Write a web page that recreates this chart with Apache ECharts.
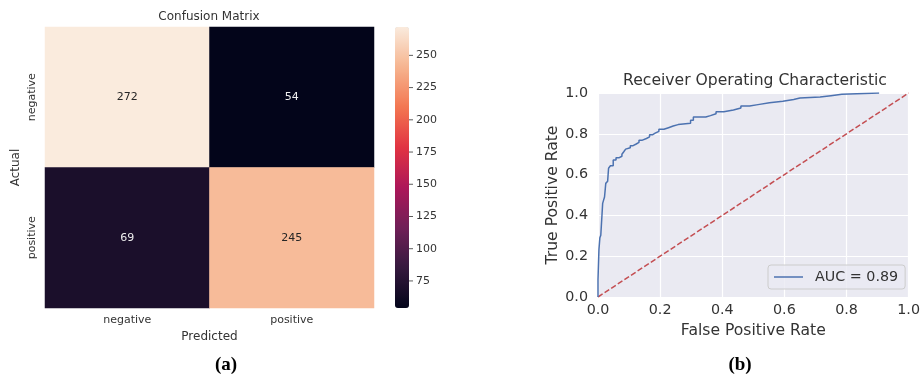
<!DOCTYPE html>
<html><head><meta charset="utf-8">
<script src="https://cdn.jsdelivr.net/npm/echarts@6/dist/echarts.min.js"></script>
<style>html,body{margin:0;padding:0;background:#fff}#c{width:923px;height:379px}</style>
</head><body><div id="c"></div>
<script>
// ---- data ----
const cmCategories = ['negative', 'positive'];
const cmActualNegative = [272, 54];   // predicted negative, predicted positive
const cmActualPositive = [69, 245];
const colorbarTicks = [75, 100, 125, 150, 175, 200, 225, 250];
const colorbarMin = 54;
const colorbarMax = 272;
const rocTicks = [0, 0.2, 0.4, 0.6, 0.8, 1.0];
const rocFpr = [0, 0, 0.003, 0.003, 0.006, 0.006, 0.009, 0.009, 0.015, 0.015, 0.018, 0.018, 0.021, 0.021, 0.025, 0.025, 0.031, 0.031, 0.034, 0.034, 0.040, 0.040, 0.049, 0.049, 0.058, 0.058, 0.067, 0.067, 0.077, 0.077, 0.083, 0.083, 0.089, 0.089, 0.095, 0.095, 0.104, 0.104, 0.113, 0.113, 0.123, 0.123, 0.132, 0.132, 0.141, 0.141, 0.156, 0.156, 0.166, 0.166, 0.175, 0.175, 0.184, 0.184, 0.196, 0.196, 0.212, 0.212, 0.227, 0.227, 0.242, 0.242, 0.258, 0.258, 0.298, 0.298, 0.307, 0.307, 0.347, 0.347, 0.362, 0.362, 0.380, 0.380, 0.405, 0.405, 0.436, 0.436, 0.460, 0.460, 0.488, 0.488, 0.515, 0.515, 0.552, 0.552, 0.595, 0.595, 0.630, 0.630, 0.650, 0.650, 0.715, 0.715, 0.750, 0.750, 0.785, 0.785, 0.905];
const rocTpr = [0, 0.085, 0.085, 0.232, 0.232, 0.290, 0.290, 0.303, 0.303, 0.459, 0.459, 0.475, 0.475, 0.490, 0.490, 0.557, 0.557, 0.567, 0.567, 0.631, 0.631, 0.643, 0.643, 0.672, 0.672, 0.682, 0.682, 0.690, 0.690, 0.700, 0.700, 0.712, 0.712, 0.725, 0.725, 0.732, 0.732, 0.742, 0.742, 0.750, 0.750, 0.758, 0.758, 0.768, 0.768, 0.777, 0.777, 0.785, 0.785, 0.795, 0.795, 0.803, 0.803, 0.812, 0.812, 0.822, 0.822, 0.830, 0.830, 0.838, 0.838, 0.845, 0.845, 0.852, 0.852, 0.866, 0.866, 0.882, 0.882, 0.889, 0.889, 0.898, 0.898, 0.908, 0.908, 0.917, 0.917, 0.926, 0.926, 0.936, 0.936, 0.943, 0.943, 0.952, 0.952, 0.960, 0.960, 0.968, 0.968, 0.975, 0.975, 0.980, 0.980, 0.987, 0.987, 0.994, 0.994, 1.0, 1.0];
const chanceFpr = [0, 1];
const chanceTpr = [0, 1];
const aucLabel = 'AUC = 0.89';

// ---- build ----
const FONT = 'DejaVu Sans';
const TXT = '#333333';
const rocket = ['#03051a', '#35193e', '#701f57', '#ad1759', '#e13342', '#f37651', '#f6b48f', '#faebdd'];
const cmRows = [cmActualNegative, cmActualPositive];
const heatData = [];
cmRows.forEach((row, yi) => row.forEach((v, xi) => {
  const dark = v < (colorbarMin + colorbarMax) / 2;
  heatData.push({ value: [xi, yi, v], label: { color: dark ? '#eeeeee' : '#262626' } });
}));
const rocData = rocFpr.map((x, i) => [x, rocTpr[i]]);
const chanceData = chanceFpr.map((x, i) => [x, chanceTpr[i]]);
const cbTickMarks = colorbarTicks.map(v => [1, v]);

const chart = echarts.init(document.getElementById('c'), null, { renderer: 'canvas' });
chart.setOption({
  animation: false,
  backgroundColor: '#ffffff',
  textStyle: { fontFamily: FONT },
  title: [
    { text: 'Confusion Matrix', left: 209, top: 11, padding: 0, textAlign: 'center',
      textStyle: { fontSize: 12, fontWeight: 'normal', color: TXT, fontFamily: FONT } },
    { text: 'Receiver Operating Characteristic', left: 755, top: 73, padding: 0, textAlign: 'center',
      textStyle: { fontSize: 15.6, fontWeight: 'normal', color: TXT, fontFamily: FONT } },
    { text: '(a)', left: 226, top: 356, padding: 0, textAlign: 'center',
      textStyle: { fontSize: 19, fontWeight: 'bold', color: '#000', fontFamily: 'Liberation Serif' } },
    { text: '(b)', left: 740, top: 356, padding: 0, textAlign: 'center',
      textStyle: { fontSize: 19, fontWeight: 'bold', color: '#000', fontFamily: 'Liberation Serif' } }
  ],
  grid: [
    { left: 45, top: 27, width: 329, height: 281 },
    { left: 395, top: 27, width: 14, height: 281 },
    { left: 598, top: 93, width: 313, height: 204, show: true, backgroundColor: '#eaeaf2', borderWidth: 0 }
  ],
  xAxis: [
    { gridIndex: 0, type: 'category', data: cmCategories,
      axisLine: { show: false }, axisTick: { show: false }, splitLine: { show: false },
      axisLabel: { margin: 7, fontSize: 11, color: TXT, fontFamily: FONT },
      name: 'Predicted', nameLocation: 'middle', nameGap: 19,
      nameTextStyle: { fontSize: 12, color: TXT, fontFamily: FONT } },
    { gridIndex: 1, type: 'value', show: false, min: 0, max: 1 },
    { gridIndex: 2, type: 'value', min: 0, max: 1, interval: 0.2,
      axisLine: { show: false }, axisTick: { show: false },
      splitLine: { show: true, lineStyle: { color: '#ffffff', width: 1.2 } },
      axisLabel: { margin: 6, fontSize: 14.3, color: TXT, fontFamily: FONT, customValues: rocTicks,
        formatter: v => v.toFixed(1) },
      name: 'False Positive Rate', nameLocation: 'middle', nameGap: 26,
      nameTextStyle: { fontSize: 15.6, color: TXT, fontFamily: FONT } }
  ],
  yAxis: [
    { gridIndex: 0, type: 'category', data: cmCategories, inverse: true,
      axisLine: { show: false }, axisTick: { show: false }, splitLine: { show: false },
      axisLabel: { rotate: 90, margin: 7, fontSize: 11, color: TXT, fontFamily: FONT },
      name: 'Actual', nameLocation: 'middle', nameGap: 23,
      nameTextStyle: { fontSize: 12, color: TXT, fontFamily: FONT } },
    { gridIndex: 1, type: 'value', position: 'right', min: colorbarMin, max: colorbarMax,
      axisLine: { show: false }, splitLine: { show: false }, axisTick: { show: false },
      axisLabel: { margin: 7, fontSize: 11, color: TXT, fontFamily: FONT, customValues: colorbarTicks } },
    { gridIndex: 2, type: 'value', min: 0, max: 1, interval: 0.2,
      axisLine: { show: false }, axisTick: { show: false },
      splitLine: { show: true, lineStyle: { color: '#ffffff', width: 1.2 } },
      axisLabel: { margin: 10, fontSize: 14.3, color: TXT, fontFamily: FONT, customValues: rocTicks,
        formatter: v => v.toFixed(1) },
      name: 'True Positive Rate', nameLocation: 'middle', nameGap: 37,
      nameTextStyle: { fontSize: 15.6, color: TXT, fontFamily: FONT } }
  ],
  visualMap: {
    type: 'continuous', seriesIndex: 0, min: colorbarMin, max: colorbarMax,
    calculable: false, hoverLink: false, left: 395, top: 27, padding: 0,
    itemWidth: 14, itemHeight: 281, inRange: { color: rocket }
  },
  legend: {
    data: [{ name: aucLabel, icon: 'path://M0,0H29V1.5H0Z' }], left: 768, top: 265, padding: [5, 7, 5, 6],
    backgroundColor: 'rgba(234,234,242,0.8)', borderColor: '#cccccc', borderWidth: 1, borderRadius: 3,
    itemWidth: 29, itemHeight: 14, symbolKeepAspect: true,
    itemStyle: { color: '#4c72b0', borderWidth: 0 },
    textStyle: { fontSize: 14.3, color: TXT, fontFamily: FONT, padding: [0, 0, 0, 7] }
  },
  series: [
    { type: 'heatmap', xAxisIndex: 0, yAxisIndex: 0, data: heatData,
      label: { show: true, fontSize: 11, fontFamily: FONT, formatter: p => String(p.value[2]) },
      emphasis: { disabled: true } },
    { type: 'line', name: aucLabel, xAxisIndex: 2, yAxisIndex: 2, data: rocData,
      symbol: 'none', z: 4, lineStyle: { color: '#4c72b0', width: 1.5 }, itemStyle: { color: '#4c72b0' } },
    { type: 'line', name: 'chance', xAxisIndex: 2, yAxisIndex: 2, data: chanceData,
      symbol: 'none', z: 3, lineStyle: { color: '#c44e52', width: 1.5, type: [5.5, 2.4] }, itemStyle: { color: '#c44e52' } },
    { type: 'scatter', name: 'cbticks', xAxisIndex: 1, yAxisIndex: 1, data: cbTickMarks, clip: false,
      symbol: 'rect', symbolSize: [4, 1], symbolOffset: [2, 0], silent: true,
      itemStyle: { color: '#333333' }, emphasis: { disabled: true } }
  ]
});
</script>
</body></html>
